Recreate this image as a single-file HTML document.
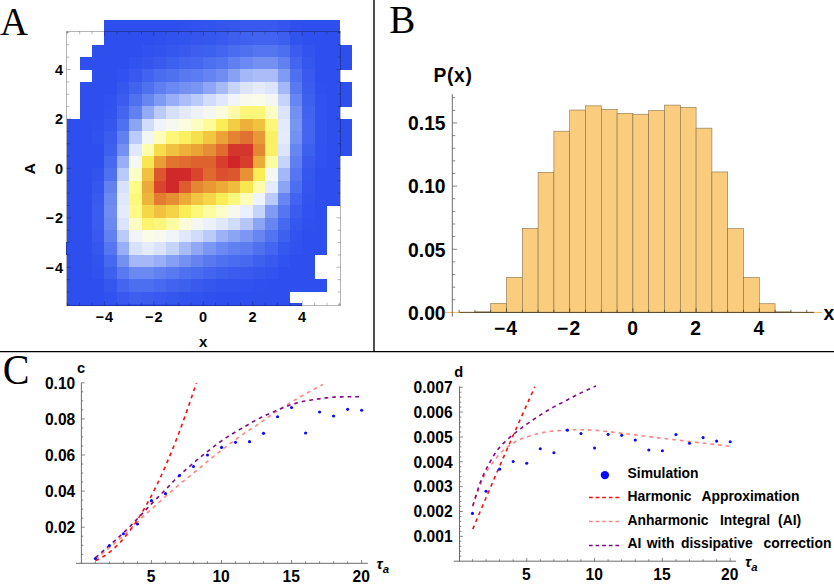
<!DOCTYPE html>
<html><head><meta charset="utf-8"><title>Figure</title>
<style>
html,body{margin:0;padding:0;background:#fff;}
svg{display:block;}
text{font-family:"Liberation Sans",sans-serif;font-weight:bold;fill:#000;}
.pl{font-family:"Liberation Serif",serif;font-weight:normal;font-size:41.2px;}
.hl{font-size:14.5px;}
.bl{font-size:19.3px;}
.cl{font-size:15.6px;}
.lg{font-size:13.9px;}
</style></head><body>
<svg width="834" height="584" viewBox="0 0 834 584">
<rect width="834" height="584" fill="#fff"/>
<g shape-rendering="crispEdges">
<rect x="104.41" y="20.10" width="74.52" height="12.64" fill="rgb(46,78,238)"/>
<rect x="178.63" y="20.10" width="12.67" height="12.64" fill="rgb(48,80,238)"/>
<rect x="191.00" y="20.10" width="12.67" height="12.64" fill="rgb(49,82,238)"/>
<rect x="203.37" y="20.10" width="12.67" height="12.64" fill="rgb(51,83,238)"/>
<rect x="215.74" y="20.10" width="12.67" height="12.64" fill="rgb(53,85,238)"/>
<rect x="228.11" y="20.10" width="12.67" height="12.64" fill="rgb(54,87,238)"/>
<rect x="240.48" y="20.10" width="37.41" height="12.64" fill="rgb(56,88,239)"/>
<rect x="277.59" y="20.10" width="12.67" height="12.64" fill="rgb(53,85,238)"/>
<rect x="289.96" y="20.10" width="12.67" height="12.64" fill="rgb(48,80,238)"/>
<rect x="302.33" y="20.10" width="37.41" height="12.64" fill="rgb(46,78,238)"/>
<rect x="104.41" y="32.44" width="49.78" height="12.64" fill="rgb(46,78,238)"/>
<rect x="153.89" y="32.44" width="12.67" height="12.64" fill="rgb(48,80,238)"/>
<rect x="166.26" y="32.44" width="12.67" height="12.64" fill="rgb(49,82,238)"/>
<rect x="178.63" y="32.44" width="12.67" height="12.64" fill="rgb(51,83,238)"/>
<rect x="191.00" y="32.44" width="12.67" height="12.64" fill="rgb(53,85,238)"/>
<rect x="203.37" y="32.44" width="12.67" height="12.64" fill="rgb(54,87,238)"/>
<rect x="215.74" y="32.44" width="12.67" height="12.64" fill="rgb(58,90,239)"/>
<rect x="228.11" y="32.44" width="12.67" height="12.64" fill="rgb(61,94,239)"/>
<rect x="240.48" y="32.44" width="12.67" height="12.64" fill="rgb(64,97,239)"/>
<rect x="252.85" y="32.44" width="25.04" height="12.64" fill="rgb(66,99,239)"/>
<rect x="277.59" y="32.44" width="12.67" height="12.64" fill="rgb(61,94,239)"/>
<rect x="289.96" y="32.44" width="12.67" height="12.64" fill="rgb(51,83,238)"/>
<rect x="302.33" y="32.44" width="12.67" height="12.64" fill="rgb(48,80,238)"/>
<rect x="314.70" y="32.44" width="25.04" height="12.64" fill="rgb(46,78,238)"/>
<rect x="92.04" y="44.78" width="49.78" height="12.64" fill="rgb(46,78,238)"/>
<rect x="141.52" y="44.78" width="12.67" height="12.64" fill="rgb(49,82,238)"/>
<rect x="153.89" y="44.78" width="12.67" height="12.64" fill="rgb(51,83,238)"/>
<rect x="166.26" y="44.78" width="12.67" height="12.64" fill="rgb(54,87,238)"/>
<rect x="178.63" y="44.78" width="12.67" height="12.64" fill="rgb(58,90,239)"/>
<rect x="191.00" y="44.78" width="12.67" height="12.64" fill="rgb(61,94,239)"/>
<rect x="203.37" y="44.78" width="12.67" height="12.64" fill="rgb(62,96,239)"/>
<rect x="215.74" y="44.78" width="12.67" height="12.64" fill="rgb(67,101,239)"/>
<rect x="228.11" y="44.78" width="12.67" height="12.64" fill="rgb(74,108,240)"/>
<rect x="240.48" y="44.78" width="12.67" height="12.64" fill="rgb(79,113,240)"/>
<rect x="252.85" y="44.78" width="25.04" height="12.64" fill="rgb(85,118,240)"/>
<rect x="277.59" y="44.78" width="12.67" height="12.64" fill="rgb(76,110,240)"/>
<rect x="289.96" y="44.78" width="12.67" height="12.64" fill="rgb(59,92,239)"/>
<rect x="302.33" y="44.78" width="12.67" height="12.64" fill="rgb(51,83,238)"/>
<rect x="314.70" y="44.78" width="37.41" height="12.64" fill="rgb(46,78,238)"/>
<rect x="79.67" y="57.12" width="49.78" height="12.64" fill="rgb(46,78,238)"/>
<rect x="129.15" y="57.12" width="12.67" height="12.64" fill="rgb(49,82,238)"/>
<rect x="141.52" y="57.12" width="12.67" height="12.64" fill="rgb(53,85,238)"/>
<rect x="153.89" y="57.12" width="12.67" height="12.64" fill="rgb(58,90,239)"/>
<rect x="166.26" y="57.12" width="12.67" height="12.64" fill="rgb(62,96,239)"/>
<rect x="178.63" y="57.12" width="12.67" height="12.64" fill="rgb(67,101,239)"/>
<rect x="191.00" y="57.12" width="12.67" height="12.64" fill="rgb(69,102,239)"/>
<rect x="203.37" y="57.12" width="12.67" height="12.64" fill="rgb(76,110,240)"/>
<rect x="215.74" y="57.12" width="12.67" height="12.64" fill="rgb(83,116,240)"/>
<rect x="228.11" y="57.12" width="12.67" height="12.64" fill="rgb(96,127,241)"/>
<rect x="240.48" y="57.12" width="12.67" height="12.64" fill="rgb(107,137,242)"/>
<rect x="252.85" y="57.12" width="25.04" height="12.64" fill="rgb(116,145,242)"/>
<rect x="277.59" y="57.12" width="12.67" height="12.64" fill="rgb(98,129,241)"/>
<rect x="289.96" y="57.12" width="12.67" height="12.64" fill="rgb(67,101,239)"/>
<rect x="302.33" y="57.12" width="12.67" height="12.64" fill="rgb(54,87,238)"/>
<rect x="314.70" y="57.12" width="37.41" height="12.64" fill="rgb(46,78,238)"/>
<rect x="92.04" y="69.46" width="25.04" height="12.64" fill="rgb(46,78,238)"/>
<rect x="116.78" y="69.46" width="12.67" height="12.64" fill="rgb(49,82,238)"/>
<rect x="129.15" y="69.46" width="12.67" height="12.64" fill="rgb(56,88,239)"/>
<rect x="141.52" y="69.46" width="12.67" height="12.64" fill="rgb(66,99,239)"/>
<rect x="153.89" y="69.46" width="12.67" height="12.64" fill="rgb(74,108,240)"/>
<rect x="166.26" y="69.46" width="12.67" height="12.64" fill="rgb(79,113,240)"/>
<rect x="178.63" y="69.46" width="12.67" height="12.64" fill="rgb(88,121,240)"/>
<rect x="191.00" y="69.46" width="12.67" height="12.64" fill="rgb(92,124,241)"/>
<rect x="203.37" y="69.46" width="12.67" height="12.64" fill="rgb(101,132,241)"/>
<rect x="215.74" y="69.46" width="12.67" height="12.64" fill="rgb(112,142,242)"/>
<rect x="228.11" y="69.46" width="12.67" height="12.64" fill="rgb(135,161,244)"/>
<rect x="240.48" y="69.46" width="12.67" height="12.64" fill="rgb(164,184,247)"/>
<rect x="252.85" y="69.46" width="25.04" height="12.64" fill="rgb(171,189,248)"/>
<rect x="277.59" y="69.46" width="12.67" height="12.64" fill="rgb(128,155,243)"/>
<rect x="289.96" y="69.46" width="12.67" height="12.64" fill="rgb(79,113,240)"/>
<rect x="302.33" y="69.46" width="12.67" height="12.64" fill="rgb(58,90,239)"/>
<rect x="314.70" y="69.46" width="25.04" height="12.64" fill="rgb(46,78,238)"/>
<rect x="79.67" y="81.80" width="37.41" height="12.64" fill="rgb(46,78,238)"/>
<rect x="116.78" y="81.80" width="12.67" height="12.64" fill="rgb(54,87,238)"/>
<rect x="129.15" y="81.80" width="12.67" height="12.64" fill="rgb(66,99,239)"/>
<rect x="141.52" y="81.80" width="12.67" height="12.64" fill="rgb(79,113,240)"/>
<rect x="153.89" y="81.80" width="12.67" height="12.64" fill="rgb(94,126,241)"/>
<rect x="166.26" y="81.80" width="12.67" height="12.64" fill="rgb(107,137,242)"/>
<rect x="178.63" y="81.80" width="12.67" height="12.64" fill="rgb(116,145,242)"/>
<rect x="191.00" y="81.80" width="12.67" height="12.64" fill="rgb(121,149,242)"/>
<rect x="203.37" y="81.80" width="12.67" height="12.64" fill="rgb(142,166,245)"/>
<rect x="215.74" y="81.80" width="12.67" height="12.64" fill="rgb(166,186,247)"/>
<rect x="228.11" y="81.80" width="12.67" height="12.64" fill="rgb(198,211,250)"/>
<rect x="240.48" y="81.80" width="12.67" height="12.64" fill="rgb(219,228,252)"/>
<rect x="252.85" y="81.80" width="12.67" height="12.64" fill="rgb(228,235,252)"/>
<rect x="265.22" y="81.80" width="12.67" height="12.64" fill="rgb(221,229,252)"/>
<rect x="277.59" y="81.80" width="12.67" height="12.64" fill="rgb(164,184,247)"/>
<rect x="289.96" y="81.80" width="12.67" height="12.64" fill="rgb(88,121,240)"/>
<rect x="302.33" y="81.80" width="12.67" height="12.64" fill="rgb(59,92,239)"/>
<rect x="314.70" y="81.80" width="12.67" height="12.64" fill="rgb(48,80,238)"/>
<rect x="327.07" y="81.80" width="25.04" height="12.64" fill="rgb(46,78,238)"/>
<rect x="79.67" y="94.14" width="25.04" height="12.64" fill="rgb(46,78,238)"/>
<rect x="104.41" y="94.14" width="12.67" height="12.64" fill="rgb(49,82,238)"/>
<rect x="116.78" y="94.14" width="12.67" height="12.64" fill="rgb(59,92,239)"/>
<rect x="129.15" y="94.14" width="12.67" height="12.64" fill="rgb(79,113,240)"/>
<rect x="141.52" y="94.14" width="12.67" height="12.64" fill="rgb(103,134,241)"/>
<rect x="153.89" y="94.14" width="12.67" height="12.64" fill="rgb(128,155,243)"/>
<rect x="166.26" y="94.14" width="12.67" height="12.64" fill="rgb(152,174,246)"/>
<rect x="178.63" y="94.14" width="12.67" height="12.64" fill="rgb(171,189,248)"/>
<rect x="191.00" y="94.14" width="12.67" height="12.64" fill="rgb(186,202,249)"/>
<rect x="203.37" y="94.14" width="12.67" height="12.64" fill="rgb(209,220,251)"/>
<rect x="215.74" y="94.14" width="12.67" height="12.64" fill="rgb(224,232,252)"/>
<rect x="228.11" y="94.14" width="12.67" height="12.64" fill="rgb(241,245,249)"/>
<rect x="240.48" y="94.14" width="12.67" height="12.64" fill="rgb(249,250,236)"/>
<rect x="252.85" y="94.14" width="12.67" height="12.64" fill="rgb(251,252,232)"/>
<rect x="265.22" y="94.14" width="12.67" height="12.64" fill="rgb(245,248,242)"/>
<rect x="277.59" y="94.14" width="12.67" height="12.64" fill="rgb(198,211,250)"/>
<rect x="289.96" y="94.14" width="12.67" height="12.64" fill="rgb(103,134,241)"/>
<rect x="302.33" y="94.14" width="12.67" height="12.64" fill="rgb(62,96,239)"/>
<rect x="314.70" y="94.14" width="12.67" height="12.64" fill="rgb(49,82,238)"/>
<rect x="327.07" y="94.14" width="25.04" height="12.64" fill="rgb(46,78,238)"/>
<rect x="79.67" y="106.48" width="25.04" height="12.64" fill="rgb(46,78,238)"/>
<rect x="104.41" y="106.48" width="12.67" height="12.64" fill="rgb(51,83,238)"/>
<rect x="116.78" y="106.48" width="12.67" height="12.64" fill="rgb(67,101,239)"/>
<rect x="129.15" y="106.48" width="12.67" height="12.64" fill="rgb(98,129,241)"/>
<rect x="141.52" y="106.48" width="12.67" height="12.64" fill="rgb(147,170,245)"/>
<rect x="153.89" y="106.48" width="12.67" height="12.64" fill="rgb(186,202,249)"/>
<rect x="166.26" y="106.48" width="12.67" height="12.64" fill="rgb(214,223,251)"/>
<rect x="178.63" y="106.48" width="12.67" height="12.64" fill="rgb(227,234,252)"/>
<rect x="191.00" y="106.48" width="12.67" height="12.64" fill="rgb(238,242,253)"/>
<rect x="203.37" y="106.48" width="12.67" height="12.64" fill="rgb(245,248,242)"/>
<rect x="215.74" y="106.48" width="12.67" height="12.64" fill="rgb(252,252,223)"/>
<rect x="228.11" y="106.48" width="12.67" height="12.64" fill="rgb(254,252,170)"/>
<rect x="240.48" y="106.48" width="25.04" height="12.64" fill="rgb(252,247,120)"/>
<rect x="265.22" y="106.48" width="12.67" height="12.64" fill="rgb(253,253,195)"/>
<rect x="277.59" y="106.48" width="12.67" height="12.64" fill="rgb(219,228,252)"/>
<rect x="289.96" y="106.48" width="12.67" height="12.64" fill="rgb(116,145,242)"/>
<rect x="302.33" y="106.48" width="12.67" height="12.64" fill="rgb(66,99,239)"/>
<rect x="314.70" y="106.48" width="12.67" height="12.64" fill="rgb(49,82,238)"/>
<rect x="327.07" y="106.48" width="12.67" height="12.64" fill="rgb(46,78,238)"/>
<rect x="66.70" y="118.82" width="25.64" height="12.64" fill="rgb(46,78,238)"/>
<rect x="92.04" y="118.82" width="12.67" height="12.64" fill="rgb(48,80,238)"/>
<rect x="104.41" y="118.82" width="12.67" height="12.64" fill="rgb(54,87,238)"/>
<rect x="116.78" y="118.82" width="12.67" height="12.64" fill="rgb(79,113,240)"/>
<rect x="129.15" y="118.82" width="12.67" height="12.64" fill="rgb(140,164,244)"/>
<rect x="141.52" y="118.82" width="12.67" height="12.64" fill="rgb(209,220,251)"/>
<rect x="153.89" y="118.82" width="12.67" height="12.64" fill="rgb(239,243,253)"/>
<rect x="166.26" y="118.82" width="12.67" height="12.64" fill="rgb(247,249,238)"/>
<rect x="178.63" y="118.82" width="12.67" height="12.64" fill="rgb(252,252,223)"/>
<rect x="191.00" y="118.82" width="12.67" height="12.64" fill="rgb(253,253,195)"/>
<rect x="203.37" y="118.82" width="12.67" height="12.64" fill="rgb(253,252,150)"/>
<rect x="215.74" y="118.82" width="12.67" height="12.64" fill="rgb(250,237,86)"/>
<rect x="228.11" y="118.82" width="12.67" height="12.64" fill="rgb(243,205,66)"/>
<rect x="240.48" y="118.82" width="12.67" height="12.64" fill="rgb(237,177,58)"/>
<rect x="252.85" y="118.82" width="12.67" height="12.64" fill="rgb(241,194,63)"/>
<rect x="265.22" y="118.82" width="12.67" height="12.64" fill="rgb(252,247,120)"/>
<rect x="277.59" y="118.82" width="12.67" height="12.64" fill="rgb(227,234,252)"/>
<rect x="289.96" y="118.82" width="12.67" height="12.64" fill="rgb(121,149,242)"/>
<rect x="302.33" y="118.82" width="12.67" height="12.64" fill="rgb(67,101,239)"/>
<rect x="314.70" y="118.82" width="12.67" height="12.64" fill="rgb(51,83,238)"/>
<rect x="327.07" y="118.82" width="25.04" height="12.64" fill="rgb(46,78,238)"/>
<rect x="66.70" y="131.16" width="25.64" height="12.64" fill="rgb(46,78,238)"/>
<rect x="92.04" y="131.16" width="12.67" height="12.64" fill="rgb(49,82,238)"/>
<rect x="104.41" y="131.16" width="12.67" height="12.64" fill="rgb(59,92,239)"/>
<rect x="116.78" y="131.16" width="12.67" height="12.64" fill="rgb(98,129,241)"/>
<rect x="129.15" y="131.16" width="12.67" height="12.64" fill="rgb(186,202,249)"/>
<rect x="141.52" y="131.16" width="12.67" height="12.64" fill="rgb(243,246,247)"/>
<rect x="153.89" y="131.16" width="12.67" height="12.64" fill="rgb(254,253,186)"/>
<rect x="166.26" y="131.16" width="12.67" height="12.64" fill="rgb(252,247,120)"/>
<rect x="178.63" y="131.16" width="12.67" height="12.64" fill="rgb(251,240,96)"/>
<rect x="191.00" y="131.16" width="12.67" height="12.64" fill="rgb(247,224,78)"/>
<rect x="203.37" y="131.16" width="12.67" height="12.64" fill="rgb(242,198,64)"/>
<rect x="215.74" y="131.16" width="12.67" height="12.64" fill="rgb(235,163,55)"/>
<rect x="228.11" y="131.16" width="12.67" height="12.64" fill="rgb(228,131,50)"/>
<rect x="240.48" y="131.16" width="12.67" height="12.64" fill="rgb(225,113,48)"/>
<rect x="252.85" y="131.16" width="12.67" height="12.64" fill="rgb(232,153,53)"/>
<rect x="265.22" y="131.16" width="12.67" height="12.64" fill="rgb(251,241,100)"/>
<rect x="277.59" y="131.16" width="12.67" height="12.64" fill="rgb(228,235,252)"/>
<rect x="289.96" y="131.16" width="12.67" height="12.64" fill="rgb(116,145,242)"/>
<rect x="302.33" y="131.16" width="12.67" height="12.64" fill="rgb(67,101,239)"/>
<rect x="314.70" y="131.16" width="12.67" height="12.64" fill="rgb(51,83,238)"/>
<rect x="327.07" y="131.16" width="25.04" height="12.64" fill="rgb(46,78,238)"/>
<rect x="66.70" y="143.50" width="38.01" height="12.64" fill="rgb(46,78,238)"/>
<rect x="104.41" y="143.50" width="12.67" height="12.64" fill="rgb(62,96,239)"/>
<rect x="116.78" y="143.50" width="12.67" height="12.64" fill="rgb(116,145,242)"/>
<rect x="129.15" y="143.50" width="12.67" height="12.64" fill="rgb(224,232,252)"/>
<rect x="141.52" y="143.50" width="12.67" height="12.64" fill="rgb(254,253,176)"/>
<rect x="153.89" y="143.50" width="12.67" height="12.64" fill="rgb(246,221,76)"/>
<rect x="166.26" y="143.50" width="12.67" height="12.64" fill="rgb(241,194,63)"/>
<rect x="178.63" y="143.50" width="12.67" height="12.64" fill="rgb(237,177,58)"/>
<rect x="191.00" y="143.50" width="12.67" height="12.64" fill="rgb(235,163,55)"/>
<rect x="203.37" y="143.50" width="12.67" height="12.64" fill="rgb(230,142,51)"/>
<rect x="215.74" y="143.50" width="12.67" height="12.64" fill="rgb(224,109,47)"/>
<rect x="228.11" y="143.50" width="25.04" height="12.64" fill="rgb(213,54,43)"/>
<rect x="252.85" y="143.50" width="12.67" height="12.64" fill="rgb(229,135,50)"/>
<rect x="265.22" y="143.50" width="12.67" height="12.64" fill="rgb(251,241,100)"/>
<rect x="277.59" y="143.50" width="12.67" height="12.64" fill="rgb(221,229,252)"/>
<rect x="289.96" y="143.50" width="12.67" height="12.64" fill="rgb(103,134,241)"/>
<rect x="302.33" y="143.50" width="12.67" height="12.64" fill="rgb(62,96,239)"/>
<rect x="314.70" y="143.50" width="12.67" height="12.64" fill="rgb(49,82,238)"/>
<rect x="327.07" y="143.50" width="25.04" height="12.64" fill="rgb(46,78,238)"/>
<rect x="66.70" y="155.84" width="38.01" height="12.64" fill="rgb(46,78,238)"/>
<rect x="104.41" y="155.84" width="12.67" height="12.64" fill="rgb(71,104,240)"/>
<rect x="116.78" y="155.84" width="12.67" height="12.64" fill="rgb(152,174,246)"/>
<rect x="129.15" y="155.84" width="12.67" height="12.64" fill="rgb(245,248,242)"/>
<rect x="141.52" y="155.84" width="12.67" height="12.64" fill="rgb(249,231,82)"/>
<rect x="153.89" y="155.84" width="12.67" height="12.64" fill="rgb(234,159,54)"/>
<rect x="166.26" y="155.84" width="12.67" height="12.64" fill="rgb(226,116,48)"/>
<rect x="178.63" y="155.84" width="12.67" height="12.64" fill="rgb(224,109,47)"/>
<rect x="191.00" y="155.84" width="25.04" height="12.64" fill="rgb(222,98,46)"/>
<rect x="215.74" y="155.84" width="12.67" height="12.64" fill="rgb(215,62,43)"/>
<rect x="228.11" y="155.84" width="12.67" height="12.64" fill="rgb(209,37,42)"/>
<rect x="240.48" y="155.84" width="12.67" height="12.64" fill="rgb(215,62,43)"/>
<rect x="252.85" y="155.84" width="12.67" height="12.64" fill="rgb(236,170,56)"/>
<rect x="265.22" y="155.84" width="12.67" height="12.64" fill="rgb(254,252,160)"/>
<rect x="277.59" y="155.84" width="12.67" height="12.64" fill="rgb(198,211,250)"/>
<rect x="289.96" y="155.84" width="12.67" height="12.64" fill="rgb(94,126,241)"/>
<rect x="302.33" y="155.84" width="12.67" height="12.64" fill="rgb(58,90,239)"/>
<rect x="314.70" y="155.84" width="12.67" height="12.64" fill="rgb(49,82,238)"/>
<rect x="327.07" y="155.84" width="12.67" height="12.64" fill="rgb(46,78,238)"/>
<rect x="66.70" y="168.18" width="25.64" height="12.64" fill="rgb(46,78,238)"/>
<rect x="92.04" y="168.18" width="12.67" height="12.64" fill="rgb(51,83,238)"/>
<rect x="104.41" y="168.18" width="12.67" height="12.64" fill="rgb(79,113,240)"/>
<rect x="116.78" y="168.18" width="12.67" height="12.64" fill="rgb(186,202,249)"/>
<rect x="129.15" y="168.18" width="12.67" height="12.64" fill="rgb(253,253,200)"/>
<rect x="141.52" y="168.18" width="12.67" height="12.64" fill="rgb(241,194,63)"/>
<rect x="153.89" y="168.18" width="12.67" height="12.64" fill="rgb(220,87,45)"/>
<rect x="166.26" y="168.18" width="25.04" height="12.64" fill="rgb(209,40,42)"/>
<rect x="191.00" y="168.18" width="12.67" height="12.64" fill="rgb(216,69,44)"/>
<rect x="203.37" y="168.18" width="12.67" height="12.64" fill="rgb(223,105,47)"/>
<rect x="215.74" y="168.18" width="12.67" height="12.64" fill="rgb(218,80,44)"/>
<rect x="228.11" y="168.18" width="12.67" height="12.64" fill="rgb(220,87,45)"/>
<rect x="240.48" y="168.18" width="12.67" height="12.64" fill="rgb(231,146,52)"/>
<rect x="252.85" y="168.18" width="12.67" height="12.64" fill="rgb(250,237,86)"/>
<rect x="265.22" y="168.18" width="12.67" height="12.64" fill="rgb(245,248,242)"/>
<rect x="277.59" y="168.18" width="12.67" height="12.64" fill="rgb(164,184,247)"/>
<rect x="289.96" y="168.18" width="12.67" height="12.64" fill="rgb(85,118,240)"/>
<rect x="302.33" y="168.18" width="12.67" height="12.64" fill="rgb(54,87,238)"/>
<rect x="314.70" y="168.18" width="25.04" height="12.64" fill="rgb(46,78,238)"/>
<rect x="66.70" y="180.52" width="25.64" height="12.64" fill="rgb(46,78,238)"/>
<rect x="92.04" y="180.52" width="12.67" height="12.64" fill="rgb(54,87,238)"/>
<rect x="104.41" y="180.52" width="12.67" height="12.64" fill="rgb(98,129,241)"/>
<rect x="116.78" y="180.52" width="12.67" height="12.64" fill="rgb(216,226,252)"/>
<rect x="129.15" y="180.52" width="12.67" height="12.64" fill="rgb(253,251,134)"/>
<rect x="141.52" y="180.52" width="12.67" height="12.64" fill="rgb(236,170,56)"/>
<rect x="153.89" y="180.52" width="12.67" height="12.64" fill="rgb(216,69,44)"/>
<rect x="166.26" y="180.52" width="12.67" height="12.64" fill="rgb(209,40,42)"/>
<rect x="178.63" y="180.52" width="12.67" height="12.64" fill="rgb(221,91,45)"/>
<rect x="191.00" y="180.52" width="12.67" height="12.64" fill="rgb(229,135,50)"/>
<rect x="203.37" y="180.52" width="12.67" height="12.64" fill="rgb(232,153,53)"/>
<rect x="215.74" y="180.52" width="12.67" height="12.64" fill="rgb(236,170,56)"/>
<rect x="228.11" y="180.52" width="12.67" height="12.64" fill="rgb(240,188,61)"/>
<rect x="240.48" y="180.52" width="12.67" height="12.64" fill="rgb(249,231,82)"/>
<rect x="252.85" y="180.52" width="12.67" height="12.64" fill="rgb(254,252,170)"/>
<rect x="265.22" y="180.52" width="12.67" height="12.64" fill="rgb(228,235,252)"/>
<rect x="277.59" y="180.52" width="12.67" height="12.64" fill="rgb(140,164,244)"/>
<rect x="289.96" y="180.52" width="12.67" height="12.64" fill="rgb(76,110,240)"/>
<rect x="302.33" y="180.52" width="12.67" height="12.64" fill="rgb(53,85,238)"/>
<rect x="314.70" y="180.52" width="25.04" height="12.64" fill="rgb(46,78,238)"/>
<rect x="66.70" y="192.86" width="25.64" height="12.64" fill="rgb(46,78,238)"/>
<rect x="92.04" y="192.86" width="12.67" height="12.64" fill="rgb(58,90,239)"/>
<rect x="104.41" y="192.86" width="12.67" height="12.64" fill="rgb(107,137,242)"/>
<rect x="116.78" y="192.86" width="12.67" height="12.64" fill="rgb(224,232,252)"/>
<rect x="129.15" y="192.86" width="12.67" height="12.64" fill="rgb(252,248,124)"/>
<rect x="141.52" y="192.86" width="12.67" height="12.64" fill="rgb(238,181,59)"/>
<rect x="153.89" y="192.86" width="12.67" height="12.64" fill="rgb(227,124,49)"/>
<rect x="166.26" y="192.86" width="12.67" height="12.64" fill="rgb(230,142,51)"/>
<rect x="178.63" y="192.86" width="12.67" height="12.64" fill="rgb(236,170,56)"/>
<rect x="191.00" y="192.86" width="12.67" height="12.64" fill="rgb(242,198,64)"/>
<rect x="203.37" y="192.86" width="12.67" height="12.64" fill="rgb(245,215,72)"/>
<rect x="215.74" y="192.86" width="12.67" height="12.64" fill="rgb(250,237,86)"/>
<rect x="228.11" y="192.86" width="12.67" height="12.64" fill="rgb(252,248,124)"/>
<rect x="240.48" y="192.86" width="12.67" height="12.64" fill="rgb(254,253,186)"/>
<rect x="252.85" y="192.86" width="12.67" height="12.64" fill="rgb(239,243,253)"/>
<rect x="265.22" y="192.86" width="12.67" height="12.64" fill="rgb(186,202,249)"/>
<rect x="277.59" y="192.86" width="12.67" height="12.64" fill="rgb(103,134,241)"/>
<rect x="289.96" y="192.86" width="12.67" height="12.64" fill="rgb(66,99,239)"/>
<rect x="302.33" y="192.86" width="12.67" height="12.64" fill="rgb(51,83,238)"/>
<rect x="314.70" y="192.86" width="25.04" height="12.64" fill="rgb(46,78,238)"/>
<rect x="66.70" y="205.20" width="25.64" height="12.64" fill="rgb(46,78,238)"/>
<rect x="92.04" y="205.20" width="12.67" height="12.64" fill="rgb(59,92,239)"/>
<rect x="104.41" y="205.20" width="12.67" height="12.64" fill="rgb(110,140,242)"/>
<rect x="116.78" y="205.20" width="12.67" height="12.64" fill="rgb(228,235,252)"/>
<rect x="129.15" y="205.20" width="12.67" height="12.64" fill="rgb(253,251,134)"/>
<rect x="141.52" y="205.20" width="12.67" height="12.64" fill="rgb(245,215,72)"/>
<rect x="153.89" y="205.20" width="12.67" height="12.64" fill="rgb(241,194,63)"/>
<rect x="166.26" y="205.20" width="12.67" height="12.64" fill="rgb(244,211,70)"/>
<rect x="178.63" y="205.20" width="12.67" height="12.64" fill="rgb(250,237,86)"/>
<rect x="191.00" y="205.20" width="12.67" height="12.64" fill="rgb(252,248,124)"/>
<rect x="203.37" y="205.20" width="12.67" height="12.64" fill="rgb(254,252,160)"/>
<rect x="215.74" y="205.20" width="12.67" height="12.64" fill="rgb(253,253,200)"/>
<rect x="228.11" y="205.20" width="12.67" height="12.64" fill="rgb(247,249,238)"/>
<rect x="240.48" y="205.20" width="12.67" height="12.64" fill="rgb(234,240,253)"/>
<rect x="252.85" y="205.20" width="12.67" height="12.64" fill="rgb(198,211,250)"/>
<rect x="265.22" y="205.20" width="12.67" height="12.64" fill="rgb(128,155,243)"/>
<rect x="277.59" y="205.20" width="12.67" height="12.64" fill="rgb(85,118,240)"/>
<rect x="289.96" y="205.20" width="12.67" height="12.64" fill="rgb(59,92,239)"/>
<rect x="302.33" y="205.20" width="12.67" height="12.64" fill="rgb(49,82,238)"/>
<rect x="314.70" y="205.20" width="12.67" height="12.64" fill="rgb(46,78,238)"/>
<rect x="66.70" y="217.54" width="25.64" height="12.64" fill="rgb(46,78,238)"/>
<rect x="92.04" y="217.54" width="12.67" height="12.64" fill="rgb(59,92,239)"/>
<rect x="104.41" y="217.54" width="12.67" height="12.64" fill="rgb(107,137,242)"/>
<rect x="116.78" y="217.54" width="12.67" height="12.64" fill="rgb(219,228,252)"/>
<rect x="129.15" y="217.54" width="12.67" height="12.64" fill="rgb(253,253,195)"/>
<rect x="141.52" y="217.54" width="12.67" height="12.64" fill="rgb(252,244,110)"/>
<rect x="153.89" y="217.54" width="12.67" height="12.64" fill="rgb(252,247,120)"/>
<rect x="166.26" y="217.54" width="12.67" height="12.64" fill="rgb(254,252,160)"/>
<rect x="178.63" y="217.54" width="12.67" height="12.64" fill="rgb(252,252,218)"/>
<rect x="191.00" y="217.54" width="12.67" height="12.64" fill="rgb(245,248,242)"/>
<rect x="203.37" y="217.54" width="12.67" height="12.64" fill="rgb(236,241,253)"/>
<rect x="215.74" y="217.54" width="12.67" height="12.64" fill="rgb(224,232,252)"/>
<rect x="228.11" y="217.54" width="12.67" height="12.64" fill="rgb(209,220,251)"/>
<rect x="240.48" y="217.54" width="12.67" height="12.64" fill="rgb(182,198,249)"/>
<rect x="252.85" y="217.54" width="12.67" height="12.64" fill="rgb(140,164,244)"/>
<rect x="265.22" y="217.54" width="12.67" height="12.64" fill="rgb(103,134,241)"/>
<rect x="277.59" y="217.54" width="12.67" height="12.64" fill="rgb(71,104,240)"/>
<rect x="289.96" y="217.54" width="12.67" height="12.64" fill="rgb(54,87,238)"/>
<rect x="302.33" y="217.54" width="12.67" height="12.64" fill="rgb(48,80,238)"/>
<rect x="314.70" y="217.54" width="12.67" height="12.64" fill="rgb(46,78,238)"/>
<rect x="66.70" y="229.88" width="25.64" height="12.64" fill="rgb(46,78,238)"/>
<rect x="92.04" y="229.88" width="12.67" height="12.64" fill="rgb(58,90,239)"/>
<rect x="104.41" y="229.88" width="12.67" height="12.64" fill="rgb(98,129,241)"/>
<rect x="116.78" y="229.88" width="12.67" height="12.64" fill="rgb(186,202,249)"/>
<rect x="129.15" y="229.88" width="12.67" height="12.64" fill="rgb(241,245,249)"/>
<rect x="141.52" y="229.88" width="12.67" height="12.64" fill="rgb(251,252,232)"/>
<rect x="153.89" y="229.88" width="12.67" height="12.64" fill="rgb(249,250,236)"/>
<rect x="166.26" y="229.88" width="12.67" height="12.64" fill="rgb(241,245,249)"/>
<rect x="178.63" y="229.88" width="12.67" height="12.64" fill="rgb(224,232,252)"/>
<rect x="191.00" y="229.88" width="12.67" height="12.64" fill="rgb(209,220,251)"/>
<rect x="203.37" y="229.88" width="12.67" height="12.64" fill="rgb(186,202,249)"/>
<rect x="215.74" y="229.88" width="12.67" height="12.64" fill="rgb(157,178,246)"/>
<rect x="228.11" y="229.88" width="12.67" height="12.64" fill="rgb(140,164,244)"/>
<rect x="240.48" y="229.88" width="12.67" height="12.64" fill="rgb(123,151,243)"/>
<rect x="252.85" y="229.88" width="12.67" height="12.64" fill="rgb(103,134,241)"/>
<rect x="265.22" y="229.88" width="12.67" height="12.64" fill="rgb(83,116,240)"/>
<rect x="277.59" y="229.88" width="12.67" height="12.64" fill="rgb(62,96,239)"/>
<rect x="289.96" y="229.88" width="12.67" height="12.64" fill="rgb(51,83,238)"/>
<rect x="302.33" y="229.88" width="25.04" height="12.64" fill="rgb(46,78,238)"/>
<rect x="66.70" y="242.22" width="25.64" height="12.64" fill="rgb(46,78,238)"/>
<rect x="92.04" y="242.22" width="12.67" height="12.64" fill="rgb(54,87,238)"/>
<rect x="104.41" y="242.22" width="12.67" height="12.64" fill="rgb(85,118,240)"/>
<rect x="116.78" y="242.22" width="12.67" height="12.64" fill="rgb(152,174,246)"/>
<rect x="129.15" y="242.22" width="12.67" height="12.64" fill="rgb(216,226,252)"/>
<rect x="141.52" y="242.22" width="12.67" height="12.64" fill="rgb(228,235,252)"/>
<rect x="153.89" y="242.22" width="12.67" height="12.64" fill="rgb(219,228,252)"/>
<rect x="166.26" y="242.22" width="12.67" height="12.64" fill="rgb(198,211,250)"/>
<rect x="178.63" y="242.22" width="12.67" height="12.64" fill="rgb(168,188,247)"/>
<rect x="191.00" y="242.22" width="12.67" height="12.64" fill="rgb(145,168,245)"/>
<rect x="203.37" y="242.22" width="12.67" height="12.64" fill="rgb(123,151,243)"/>
<rect x="215.74" y="242.22" width="12.67" height="12.64" fill="rgb(107,137,242)"/>
<rect x="228.11" y="242.22" width="12.67" height="12.64" fill="rgb(98,129,241)"/>
<rect x="240.48" y="242.22" width="12.67" height="12.64" fill="rgb(92,124,241)"/>
<rect x="252.85" y="242.22" width="12.67" height="12.64" fill="rgb(79,113,240)"/>
<rect x="265.22" y="242.22" width="12.67" height="12.64" fill="rgb(67,101,239)"/>
<rect x="277.59" y="242.22" width="12.67" height="12.64" fill="rgb(54,87,238)"/>
<rect x="289.96" y="242.22" width="12.67" height="12.64" fill="rgb(49,82,238)"/>
<rect x="302.33" y="242.22" width="25.04" height="12.64" fill="rgb(46,78,238)"/>
<rect x="66.70" y="254.56" width="25.64" height="12.64" fill="rgb(46,78,238)"/>
<rect x="92.04" y="254.56" width="12.67" height="12.64" fill="rgb(51,83,238)"/>
<rect x="104.41" y="254.56" width="12.67" height="12.64" fill="rgb(71,104,240)"/>
<rect x="116.78" y="254.56" width="12.67" height="12.64" fill="rgb(116,145,242)"/>
<rect x="129.15" y="254.56" width="25.04" height="12.64" fill="rgb(164,184,247)"/>
<rect x="153.89" y="254.56" width="12.67" height="12.64" fill="rgb(152,174,246)"/>
<rect x="166.26" y="254.56" width="12.67" height="12.64" fill="rgb(133,159,244)"/>
<rect x="178.63" y="254.56" width="12.67" height="12.64" fill="rgb(116,145,242)"/>
<rect x="191.00" y="254.56" width="12.67" height="12.64" fill="rgb(101,132,241)"/>
<rect x="203.37" y="254.56" width="12.67" height="12.64" fill="rgb(88,121,240)"/>
<rect x="215.74" y="254.56" width="12.67" height="12.64" fill="rgb(79,113,240)"/>
<rect x="228.11" y="254.56" width="12.67" height="12.64" fill="rgb(74,108,240)"/>
<rect x="240.48" y="254.56" width="12.67" height="12.64" fill="rgb(71,104,240)"/>
<rect x="252.85" y="254.56" width="12.67" height="12.64" fill="rgb(62,96,239)"/>
<rect x="265.22" y="254.56" width="12.67" height="12.64" fill="rgb(58,90,239)"/>
<rect x="277.59" y="254.56" width="12.67" height="12.64" fill="rgb(49,82,238)"/>
<rect x="289.96" y="254.56" width="25.04" height="12.64" fill="rgb(46,78,238)"/>
<rect x="66.70" y="266.90" width="25.64" height="12.64" fill="rgb(46,78,238)"/>
<rect x="92.04" y="266.90" width="12.67" height="12.64" fill="rgb(49,82,238)"/>
<rect x="104.41" y="266.90" width="12.67" height="12.64" fill="rgb(62,96,239)"/>
<rect x="116.78" y="266.90" width="12.67" height="12.64" fill="rgb(88,121,240)"/>
<rect x="129.15" y="266.90" width="25.04" height="12.64" fill="rgb(107,137,242)"/>
<rect x="153.89" y="266.90" width="12.67" height="12.64" fill="rgb(98,129,241)"/>
<rect x="166.26" y="266.90" width="12.67" height="12.64" fill="rgb(88,121,240)"/>
<rect x="178.63" y="266.90" width="12.67" height="12.64" fill="rgb(79,113,240)"/>
<rect x="191.00" y="266.90" width="12.67" height="12.64" fill="rgb(74,108,240)"/>
<rect x="203.37" y="266.90" width="12.67" height="12.64" fill="rgb(67,101,239)"/>
<rect x="215.74" y="266.90" width="12.67" height="12.64" fill="rgb(62,96,239)"/>
<rect x="228.11" y="266.90" width="12.67" height="12.64" fill="rgb(59,92,239)"/>
<rect x="240.48" y="266.90" width="12.67" height="12.64" fill="rgb(58,90,239)"/>
<rect x="252.85" y="266.90" width="12.67" height="12.64" fill="rgb(54,87,238)"/>
<rect x="265.22" y="266.90" width="12.67" height="12.64" fill="rgb(51,83,238)"/>
<rect x="277.59" y="266.90" width="37.41" height="12.64" fill="rgb(46,78,238)"/>
<rect x="66.70" y="279.24" width="38.01" height="12.64" fill="rgb(46,78,238)"/>
<rect x="104.41" y="279.24" width="12.67" height="12.64" fill="rgb(54,87,238)"/>
<rect x="116.78" y="279.24" width="12.67" height="12.64" fill="rgb(67,101,239)"/>
<rect x="129.15" y="279.24" width="25.04" height="12.64" fill="rgb(76,110,240)"/>
<rect x="153.89" y="279.24" width="12.67" height="12.64" fill="rgb(71,104,240)"/>
<rect x="166.26" y="279.24" width="12.67" height="12.64" fill="rgb(66,99,239)"/>
<rect x="178.63" y="279.24" width="12.67" height="12.64" fill="rgb(62,96,239)"/>
<rect x="191.00" y="279.24" width="12.67" height="12.64" fill="rgb(58,90,239)"/>
<rect x="203.37" y="279.24" width="12.67" height="12.64" fill="rgb(54,87,238)"/>
<rect x="215.74" y="279.24" width="25.04" height="12.64" fill="rgb(51,83,238)"/>
<rect x="240.48" y="279.24" width="12.67" height="12.64" fill="rgb(49,82,238)"/>
<rect x="252.85" y="279.24" width="12.67" height="12.64" fill="rgb(48,80,238)"/>
<rect x="265.22" y="279.24" width="62.15" height="12.64" fill="rgb(46,78,238)"/>
<rect x="66.70" y="291.58" width="38.01" height="12.64" fill="rgb(46,78,238)"/>
<rect x="104.41" y="291.58" width="12.67" height="12.64" fill="rgb(49,82,238)"/>
<rect x="116.78" y="291.58" width="12.67" height="12.64" fill="rgb(56,88,239)"/>
<rect x="129.15" y="291.58" width="12.67" height="12.64" fill="rgb(61,94,239)"/>
<rect x="141.52" y="291.58" width="12.67" height="12.64" fill="rgb(59,92,239)"/>
<rect x="153.89" y="291.58" width="12.67" height="12.64" fill="rgb(56,88,239)"/>
<rect x="166.26" y="291.58" width="12.67" height="12.64" fill="rgb(54,87,238)"/>
<rect x="178.63" y="291.58" width="12.67" height="12.64" fill="rgb(51,83,238)"/>
<rect x="191.00" y="291.58" width="12.67" height="12.64" fill="rgb(49,82,238)"/>
<rect x="203.37" y="291.58" width="12.67" height="12.64" fill="rgb(48,80,238)"/>
<rect x="215.74" y="291.58" width="74.52" height="12.64" fill="rgb(46,78,238)"/>
<rect x="65.8" y="242.22" width="1.2" height="12.34" fill="rgb(46,78,238)"/>
<rect x="66.7" y="303.92" width="235.63" height="1.88" fill="rgb(46,78,238)"/>
<rect x="289.96" y="303.0" width="12.37" height="2.8" fill="rgb(46,78,238)"/>
</g>
<rect x="66.60" y="31.50" width="274.00" height="273.90" fill="none" stroke="#000" stroke-opacity="0.36" stroke-width="0.8"/>
<path d="M67.34 305.40v-2.80M67.34 31.50v2.80M66.60 304.36h2.80M340.60 304.36h-2.80M79.70 305.40v-2.80M79.70 31.50v2.80M66.60 292.00h2.80M340.60 292.00h-2.80M92.06 305.40v-2.80M92.06 31.50v2.80M66.60 279.64h2.80M340.60 279.64h-2.80M104.42 305.40v-4.30M104.42 31.50v4.30M66.60 267.28h4.30M340.60 267.28h-4.30M116.78 305.40v-2.80M116.78 31.50v2.80M66.60 254.92h2.80M340.60 254.92h-2.80M129.14 305.40v-2.80M129.14 31.50v2.80M66.60 242.56h2.80M340.60 242.56h-2.80M141.50 305.40v-2.80M141.50 31.50v2.80M66.60 230.20h2.80M340.60 230.20h-2.80M153.86 305.40v-4.30M153.86 31.50v4.30M66.60 217.84h4.30M340.60 217.84h-4.30M166.22 305.40v-2.80M166.22 31.50v2.80M66.60 205.48h2.80M340.60 205.48h-2.80M178.58 305.40v-2.80M178.58 31.50v2.80M66.60 193.12h2.80M340.60 193.12h-2.80M190.94 305.40v-2.80M190.94 31.50v2.80M66.60 180.76h2.80M340.60 180.76h-2.80M203.30 305.40v-4.30M203.30 31.50v4.30M66.60 168.40h4.30M340.60 168.40h-4.30M215.66 305.40v-2.80M215.66 31.50v2.80M66.60 156.04h2.80M340.60 156.04h-2.80M228.02 305.40v-2.80M228.02 31.50v2.80M66.60 143.68h2.80M340.60 143.68h-2.80M240.38 305.40v-2.80M240.38 31.50v2.80M66.60 131.32h2.80M340.60 131.32h-2.80M252.74 305.40v-4.30M252.74 31.50v4.30M66.60 118.96h4.30M340.60 118.96h-4.30M265.10 305.40v-2.80M265.10 31.50v2.80M66.60 106.60h2.80M340.60 106.60h-2.80M277.46 305.40v-2.80M277.46 31.50v2.80M66.60 94.24h2.80M340.60 94.24h-2.80M289.82 305.40v-2.80M289.82 31.50v2.80M66.60 81.88h2.80M340.60 81.88h-2.80M302.18 305.40v-4.30M302.18 31.50v4.30M66.60 69.52h4.30M340.60 69.52h-4.30M314.54 305.40v-2.80M314.54 31.50v2.80M66.60 57.16h2.80M340.60 57.16h-2.80M326.90 305.40v-2.80M326.90 31.50v2.80M66.60 44.80h2.80M340.60 44.80h-2.80M339.26 305.40v-2.80M339.26 31.50v2.80M66.60 32.44h2.80M340.60 32.44h-2.80" stroke="#000" stroke-opacity="0.42" stroke-width="0.65" fill="none"/>
<text x="104.32" y="322.3" class="hl" text-anchor="middle"><tspan style="letter-spacing:0.9px">−</tspan>4</text>
<text x="63.0" y="272.58" class="hl" text-anchor="end"><tspan style="letter-spacing:0.9px">−</tspan>4</text>
<text x="153.76" y="322.3" class="hl" text-anchor="middle"><tspan style="letter-spacing:0.9px">−</tspan>2</text>
<text x="63.0" y="223.14" class="hl" text-anchor="end"><tspan style="letter-spacing:0.9px">−</tspan>2</text>
<text x="203.10" y="322.3" class="hl" text-anchor="middle">0</text>
<text x="63.0" y="173.70" class="hl" text-anchor="end">0</text>
<text x="252.54" y="322.3" class="hl" text-anchor="middle">2</text>
<text x="63.0" y="124.26" class="hl" text-anchor="end">2</text>
<text x="301.98" y="322.3" class="hl" text-anchor="middle">4</text>
<text x="63.0" y="74.82" class="hl" text-anchor="end">4</text>
<text x="203.2" y="346.8" class="hl" style="font-size:15px" text-anchor="middle">x</text>
<text transform="translate(35.3,168.7) rotate(-90)" class="hl" style="font-size:15.3px" text-anchor="middle">A</text>
<path d="M445 312.40H822" stroke="#e9b55e" stroke-width="1"/>
<rect x="474.90" y="311.84" width="15.80" height="0.56" fill="#facd7e" stroke="#86704a" stroke-width="0.6"/>
<rect x="490.70" y="303.48" width="15.80" height="8.92" fill="#facd7e" stroke="#86704a" stroke-width="0.6"/>
<rect x="506.50" y="277.28" width="15.80" height="35.12" fill="#facd7e" stroke="#86704a" stroke-width="0.6"/>
<rect x="522.30" y="228.41" width="15.80" height="83.99" fill="#facd7e" stroke="#86704a" stroke-width="0.6"/>
<rect x="538.10" y="172.33" width="15.80" height="140.07" fill="#facd7e" stroke="#86704a" stroke-width="0.6"/>
<rect x="553.90" y="131.18" width="15.80" height="181.22" fill="#facd7e" stroke="#86704a" stroke-width="0.6"/>
<rect x="569.70" y="110.04" width="15.80" height="202.36" fill="#facd7e" stroke="#86704a" stroke-width="0.6"/>
<rect x="585.50" y="105.86" width="15.80" height="206.54" fill="#facd7e" stroke="#86704a" stroke-width="0.6"/>
<rect x="601.30" y="109.41" width="15.80" height="202.99" fill="#facd7e" stroke="#86704a" stroke-width="0.6"/>
<rect x="617.10" y="113.33" width="15.80" height="199.07" fill="#facd7e" stroke="#86704a" stroke-width="0.6"/>
<rect x="632.90" y="114.22" width="15.80" height="198.18" fill="#facd7e" stroke="#86704a" stroke-width="0.6"/>
<rect x="648.70" y="110.55" width="15.80" height="201.85" fill="#facd7e" stroke="#86704a" stroke-width="0.6"/>
<rect x="664.50" y="105.10" width="15.80" height="207.30" fill="#facd7e" stroke="#86704a" stroke-width="0.6"/>
<rect x="680.30" y="107.25" width="15.80" height="205.15" fill="#facd7e" stroke="#86704a" stroke-width="0.6"/>
<rect x="696.10" y="128.14" width="15.80" height="184.26" fill="#facd7e" stroke="#86704a" stroke-width="0.6"/>
<rect x="711.90" y="171.95" width="15.80" height="140.45" fill="#facd7e" stroke="#86704a" stroke-width="0.6"/>
<rect x="727.70" y="228.66" width="15.80" height="83.74" fill="#facd7e" stroke="#86704a" stroke-width="0.6"/>
<rect x="743.50" y="277.53" width="15.80" height="34.87" fill="#facd7e" stroke="#86704a" stroke-width="0.6"/>
<rect x="759.30" y="303.74" width="15.80" height="8.66" fill="#facd7e" stroke="#86704a" stroke-width="0.6"/>
<rect x="775.10" y="311.84" width="15.80" height="0.56" fill="#facd7e" stroke="#86704a" stroke-width="0.6"/>
<path d="M459.5 312.40H814" stroke="#3a3326" stroke-width="0.8"/>
<path d="M459.10 312.40v-2.60M474.90 312.40v-2.60M490.70 312.40v-2.60M506.50 312.40v-4.20M522.30 312.40v-2.60M538.10 312.40v-2.60M553.90 312.40v-2.60M569.70 312.40v-4.20M585.50 312.40v-2.60M601.30 312.40v-2.60M617.10 312.40v-2.60M632.90 312.40v-4.20M648.70 312.40v-2.60M664.50 312.40v-2.60M680.30 312.40v-2.60M696.10 312.40v-4.20M711.90 312.40v-2.60M727.70 312.40v-2.60M743.50 312.40v-2.60M759.30 312.40v-4.20M775.10 312.40v-2.60M790.90 312.40v-2.60M806.70 312.40v-2.60" stroke="#3a3326" stroke-width="0.7" fill="none"/>
<path d="M452.30 94.2V316.6" stroke="#484848" stroke-width="0.8"/>
<path d="M452.30 299.77h3.00M452.30 287.14h3.00M452.30 274.51h3.00M452.30 261.88h3.00M452.30 249.25h4.80M452.30 236.62h3.00M452.30 223.99h3.00M452.30 211.36h3.00M452.30 198.73h3.00M452.30 186.10h4.80M452.30 173.47h3.00M452.30 160.84h3.00M452.30 148.21h3.00M452.30 135.58h3.00M452.30 122.95h4.80M452.30 110.32h3.00M452.30 97.69h3.00" stroke="#585858" stroke-width="0.7" fill="none"/>
<text x="445.6" y="319.70" class="bl" text-anchor="end">0.00</text>
<text x="445.6" y="256.55" class="bl" text-anchor="end">0.05</text>
<text x="445.6" y="193.40" class="bl" text-anchor="end">0.10</text>
<text x="445.6" y="130.25" class="bl" text-anchor="end">0.15</text>
<text x="505.50" y="335.4" class="bl" text-anchor="middle"><tspan style="letter-spacing:1.2px">−</tspan>4</text>
<text x="568.70" y="335.4" class="bl" text-anchor="middle"><tspan style="letter-spacing:1.2px">−</tspan>2</text>
<text x="632.50" y="335.4" class="bl" text-anchor="middle">0</text>
<text x="695.70" y="335.4" class="bl" text-anchor="middle">2</text>
<text x="758.90" y="335.4" class="bl" text-anchor="middle">4</text>
<text x="433.6" y="82" class="bl" style="letter-spacing:0.6px">P(x)</text>
<text x="823.6" y="319.6" class="bl">x</text>
<path d="M81.40 382.6V563.30" stroke="#484848" stroke-width="0.8"/>
<path d="M76 563.30H367.8" stroke="#484848" stroke-width="0.8"/>
<path d="M81.40 554.27h1.90M81.40 545.25h1.90M81.40 536.22h1.90M81.40 527.20h3.40M81.40 518.17h1.90M81.40 509.15h1.90M81.40 500.12h1.90M81.40 491.10h3.40M81.40 482.07h1.90M81.40 473.05h1.90M81.40 464.02h1.90M81.40 455.00h3.40M81.40 445.97h1.90M81.40 436.95h1.90M81.40 427.92h1.90M81.40 418.90h3.40M81.40 409.87h1.90M81.40 400.85h1.90M81.40 391.82h1.90M81.40 382.80h3.40M95.41 563.30v-2.00M109.42 563.30v-2.00M123.43 563.30v-2.00M137.44 563.30v-2.00M151.45 563.30v-3.30M165.46 563.30v-2.00M179.47 563.30v-2.00M193.48 563.30v-2.00M207.49 563.30v-2.00M221.50 563.30v-3.30M235.51 563.30v-2.00M249.52 563.30v-2.00M263.53 563.30v-2.00M277.54 563.30v-2.00M291.55 563.30v-3.30M305.56 563.30v-2.00M319.57 563.30v-2.00M333.58 563.30v-2.00M347.59 563.30v-2.00M361.60 563.30v-3.30" stroke="#585858" stroke-width="0.7" fill="none"/>
<text x="75.3" y="533.20" class="cl" text-anchor="end">0.02</text>
<text x="75.3" y="497.10" class="cl" text-anchor="end">0.04</text>
<text x="75.3" y="461.00" class="cl" text-anchor="end">0.06</text>
<text x="75.3" y="424.90" class="cl" text-anchor="end">0.08</text>
<text x="75.3" y="388.80" class="cl" text-anchor="end">0.10</text>
<text x="151.05" y="582" class="cl" text-anchor="middle">5</text>
<text x="221.10" y="582" class="cl" text-anchor="middle">10</text>
<text x="291.15" y="582" class="cl" text-anchor="middle">15</text>
<text x="361.20" y="582" class="cl" text-anchor="middle">20</text>
<text x="81.1" y="373.1" class="cl" style="font-size:14.6px" text-anchor="middle">c</text>
<text x="376.6" y="569" class="cl" style="font-style:italic;font-size:15px">τ<tspan dy="4.0" style="font-size:11.3px">a</tspan></text>
<path d="M95.41 559.15 L96.81 558.00 L98.21 556.85 L99.60 555.71 L100.99 554.56 L102.39 553.42 L103.79 552.27 L105.19 551.12 L106.59 549.95 L108.00 548.78 L109.42 547.60 L110.85 546.40 L112.29 545.21 L113.74 544.01 L115.20 542.80 L116.66 541.58 L118.12 540.36 L119.57 539.12 L121.01 537.87 L122.44 536.60 L123.85 535.32 L125.24 534.02 L126.62 532.68 L127.98 531.33 L129.33 529.96 L130.67 528.58 L132.01 527.20 L133.36 525.82 L134.71 524.45 L136.07 523.11 L137.44 521.78 L138.82 520.48 L140.22 519.20 L141.61 517.93 L143.01 516.67 L144.42 515.41 L145.83 514.16 L147.23 512.91 L148.64 511.66 L150.05 510.41 L151.45 509.15 L152.85 507.88 L154.25 506.62 L155.65 505.35 L157.05 504.08 L158.45 502.81 L159.86 501.54 L161.26 500.28 L162.66 499.02 L164.06 497.76 L165.46 496.51 L166.90 495.24 L168.40 493.91 L169.93 492.56 L171.47 491.20 L173.00 489.86 L174.48 488.56 L175.90 487.33 L177.21 486.18 L178.42 485.15 L179.47 484.24 L180.33 483.51 L181.00 482.96 L181.51 482.54 L181.93 482.21 L182.29 481.94 L182.64 481.68 L183.04 481.38 L183.52 481.02 L184.14 480.54 L184.93 479.91 L185.91 479.13 L187.00 478.26 L188.20 477.31 L189.47 476.30 L190.80 475.24 L192.17 474.15 L193.55 473.04 L194.92 471.94 L196.26 470.85 L197.54 469.80 L198.80 468.77 L200.05 467.72 L201.29 466.67 L202.54 465.61 L203.79 464.56 L205.03 463.50 L206.28 462.44 L207.52 461.40 L208.77 460.36 L210.01 459.33 L211.26 458.31 L212.51 457.30 L213.75 456.30 L215.00 455.30 L216.25 454.30 L217.49 453.31 L218.74 452.33 L219.99 451.35 L221.23 450.37 L222.48 449.40 L223.73 448.44 L224.97 447.48 L226.22 446.53 L227.46 445.59 L228.71 444.64 L229.95 443.71 L231.20 442.78 L232.45 441.85 L233.70 440.93 L234.95 440.02 L236.22 439.10 L237.53 438.16 L238.85 437.22 L240.17 436.29 L241.49 435.36 L242.79 434.45 L244.06 433.57 L245.29 432.73 L246.46 431.92 L247.56 431.17 L248.59 430.49 L249.55 429.86 L250.45 429.27 L251.32 428.73 L252.15 428.21 L252.96 427.70 L253.76 427.19 L254.57 426.68 L255.39 426.15 L256.24 425.58 L257.10 425.00 L257.92 424.43 L258.73 423.86 L259.53 423.28 L260.34 422.70 L261.17 422.10 L262.04 421.49 L262.94 420.84 L263.90 420.16 L264.93 419.44 L266.03 418.67 L267.20 417.86 L268.43 417.01 L269.70 416.12 L271.00 415.22 L272.32 414.31 L273.64 413.40 L274.96 412.50 L276.27 411.63 L277.54 410.78 L278.79 409.95 L280.04 409.13 L281.29 408.32 L282.54 407.51 L283.78 406.72 L285.03 405.93 L286.27 405.14 L287.52 404.37 L288.76 403.60 L290.01 402.84 L291.26 402.08 L292.50 401.34 L293.75 400.61 L295.00 399.88 L296.24 399.16 L297.49 398.44 L298.74 397.73 L299.98 397.02 L301.23 396.32 L302.48 395.62 L303.74 394.90 L305.04 394.18 L306.36 393.45 L307.67 392.72 L308.98 392.01 L310.27 391.30 L311.53 390.62 L312.73 389.96 L313.88 389.34 L314.95 388.76 L315.94 388.22 L316.85 387.73 L317.70 387.27 L318.51 386.84 L319.28 386.43 L320.03 386.04 L320.77 385.64 L321.52 385.25 L322.28 384.85 L323.07 384.42" fill="none" stroke="#ff8484" stroke-width="1.60" stroke-dasharray="3.8 3.9"/>
<path d="M95.41 557.70 L96.81 556.48 L98.21 555.26 L99.60 554.05 L100.99 552.83 L102.39 551.61 L103.79 550.39 L105.19 549.17 L106.59 547.93 L108.00 546.69 L109.42 545.43 L110.85 544.16 L112.29 542.89 L113.74 541.61 L115.20 540.32 L116.66 539.02 L118.12 537.72 L119.57 536.41 L121.01 535.09 L122.44 533.77 L123.85 532.43 L125.24 531.10 L126.62 529.75 L127.98 528.41 L129.33 527.05 L130.67 525.69 L132.01 524.32 L133.36 522.93 L134.71 521.54 L136.07 520.14 L137.44 518.72 L138.82 517.28 L140.22 515.82 L141.61 514.34 L143.01 512.85 L144.42 511.35 L145.83 509.85 L147.23 508.35 L148.64 506.86 L150.05 505.38 L151.45 503.92 L152.85 502.47 L154.25 501.03 L155.65 499.60 L157.05 498.17 L158.45 496.75 L159.86 495.33 L161.26 493.92 L162.66 492.50 L164.06 491.08 L165.46 489.66 L166.84 488.24 L168.20 486.83 L169.54 485.43 L170.87 484.03 L172.21 482.63 L173.57 481.22 L174.97 479.79 L176.41 478.35 L177.90 476.89 L179.47 475.40 L181.14 473.85 L182.91 472.23 L184.77 470.56 L186.68 468.87 L188.60 467.18 L190.52 465.52 L192.40 463.89 L194.22 462.33 L195.94 460.87 L197.54 459.51 L199.02 458.28 L200.40 457.14 L201.70 456.08 L202.93 455.09 L204.13 454.14 L205.29 453.23 L206.45 452.34 L207.61 451.44 L208.79 450.53 L210.01 449.58 L211.26 448.62 L212.51 447.65 L213.75 446.68 L215.00 445.72 L216.25 444.77 L217.49 443.82 L218.74 442.89 L219.99 441.98 L221.23 441.08 L222.48 440.20 L223.73 439.34 L224.99 438.50 L226.26 437.66 L227.52 436.85 L228.79 436.05 L230.04 435.26 L231.29 434.49 L232.53 433.73 L233.75 432.99 L234.95 432.26 L236.15 431.54 L237.37 430.82 L238.60 430.12 L239.82 429.42 L241.02 428.75 L242.19 428.09 L243.31 427.46 L244.38 426.86 L245.38 426.29 L246.30 425.76 L247.10 425.28 L247.76 424.87 L248.33 424.50 L248.83 424.17 L249.31 423.85 L249.79 423.54 L250.31 423.21 L250.91 422.85 L251.61 422.44 L252.46 421.97 L253.45 421.44 L254.55 420.86 L255.73 420.24 L256.99 419.59 L258.29 418.92 L259.63 418.25 L260.98 417.57 L262.33 416.91 L263.65 416.26 L264.93 415.65 L266.19 415.06 L267.45 414.48 L268.71 413.90 L269.97 413.33 L271.24 412.77 L272.50 412.22 L273.76 411.67 L275.02 411.13 L276.28 410.59 L277.54 410.06 L278.79 409.52 L280.04 408.98 L281.29 408.45 L282.54 407.92 L283.78 407.39 L285.03 406.88 L286.27 406.38 L287.52 405.90 L288.76 405.44 L290.01 405.00 L291.26 404.59 L292.50 404.19 L293.75 403.81 L295.00 403.45 L296.24 403.11 L297.49 402.77 L298.74 402.46 L299.98 402.15 L301.23 401.86 L302.48 401.57 L303.72 401.30 L304.97 401.05 L306.21 400.81 L307.46 400.59 L308.70 400.38 L309.95 400.17 L311.20 399.98 L312.44 399.78 L313.69 399.59 L314.95 399.41 L316.20 399.22 L317.46 399.03 L318.72 398.86 L319.99 398.68 L321.25 398.51 L322.52 398.35 L323.78 398.20 L325.04 398.05 L326.30 397.91 L327.56 397.78 L328.77 397.66 L329.91 397.54 L331.02 397.43 L332.12 397.33 L333.23 397.24 L334.39 397.15 L335.62 397.07 L336.95 397.00 L338.41 396.94 L340.02 396.88 L341.81 396.83 L343.76 396.80 L345.83 396.77 L348.00 396.75 L350.24 396.74 L352.53 396.74 L354.84 396.73 L357.14 396.72 L359.40 396.71 L361.60 396.70" fill="none" stroke="#800a86" stroke-width="1.60" stroke-dasharray="3.8 3.9"/>
<path d="M95.41 560.50 L96.81 559.92 L98.21 559.29 L99.61 558.60 L101.01 557.85 L102.42 557.06 L103.82 556.20 L105.22 555.30 L106.62 554.34 L108.02 553.33 L109.42 552.26 L110.82 551.14 L112.22 549.97 L113.62 548.74 L115.02 547.46 L116.43 546.13 L117.83 544.75 L119.23 543.31 L120.63 541.81 L122.03 540.27 L123.43 538.67 L124.83 537.02 L126.23 535.31 L127.63 533.55 L129.03 531.74 L130.44 529.88 L131.84 527.96 L133.24 525.99 L134.64 523.96 L136.04 521.89 L137.44 519.76 L138.84 517.58 L140.24 515.34 L141.64 513.06 L143.04 510.72 L144.44 508.32 L145.85 505.88 L147.25 503.38 L148.65 500.83 L150.05 498.23 L151.45 495.57 L152.85 492.86 L154.25 490.10 L155.65 487.29 L157.05 484.42 L158.45 481.50 L159.86 478.53 L161.26 475.51 L162.66 472.44 L164.06 469.31 L165.46 466.13 L166.86 462.89 L168.26 459.61 L169.66 456.27 L171.06 452.88 L172.47 449.44 L173.87 445.94 L175.27 442.40 L176.67 438.80 L178.07 435.15 L179.47 431.44 L180.87 427.69 L182.27 423.88 L183.67 420.02 L185.07 416.11 L186.48 412.14 L187.88 408.13 L189.28 404.06 L190.68 399.94 L192.08 395.76 L193.48 391.54 L194.88 387.26 L196.28 382.93" fill="none" stroke="#fa0c0c" stroke-width="1.60" stroke-dasharray="3.8 3.9"/>
<circle cx="95.41" cy="558.61" r="1.55" fill="#0a0aff"/>
<circle cx="109.42" cy="545.61" r="1.55" fill="#0a0aff"/>
<circle cx="123.43" cy="533.70" r="1.55" fill="#0a0aff"/>
<circle cx="137.44" cy="523.95" r="1.55" fill="#0a0aff"/>
<circle cx="151.45" cy="500.67" r="1.55" fill="#0a0aff"/>
<circle cx="165.46" cy="493.63" r="1.55" fill="#0a0aff"/>
<circle cx="179.47" cy="475.58" r="1.55" fill="#0a0aff"/>
<circle cx="193.48" cy="466.55" r="1.55" fill="#0a0aff"/>
<circle cx="207.49" cy="455.00" r="1.55" fill="#0a0aff"/>
<circle cx="221.50" cy="447.42" r="1.55" fill="#0a0aff"/>
<circle cx="235.51" cy="442.36" r="1.55" fill="#0a0aff"/>
<circle cx="249.52" cy="441.64" r="1.55" fill="#0a0aff"/>
<circle cx="263.53" cy="433.34" r="1.55" fill="#0a0aff"/>
<circle cx="277.54" cy="416.73" r="1.55" fill="#0a0aff"/>
<circle cx="291.55" cy="407.53" r="1.55" fill="#0a0aff"/>
<circle cx="305.56" cy="432.98" r="1.55" fill="#0a0aff"/>
<circle cx="319.57" cy="412.04" r="1.55" fill="#0a0aff"/>
<circle cx="333.58" cy="416.01" r="1.55" fill="#0a0aff"/>
<circle cx="347.59" cy="409.33" r="1.55" fill="#0a0aff"/>
<circle cx="361.60" cy="410.24" r="1.55" fill="#0a0aff"/>
<path d="M459.50 386.4V561.20" stroke="#484848" stroke-width="0.8"/>
<path d="M453.8 561.20H736" stroke="#484848" stroke-width="0.8"/>
<path d="M459.50 556.23h1.90M459.50 551.26h1.90M459.50 546.29h1.90M459.50 541.32h1.90M459.50 536.35h3.40M459.50 531.38h1.90M459.50 526.41h1.90M459.50 521.44h1.90M459.50 516.47h1.90M459.50 511.50h3.40M459.50 506.53h1.90M459.50 501.56h1.90M459.50 496.59h1.90M459.50 491.62h1.90M459.50 486.65h3.40M459.50 481.68h1.90M459.50 476.71h1.90M459.50 471.74h1.90M459.50 466.77h1.90M459.50 461.80h3.40M459.50 456.83h1.90M459.50 451.86h1.90M459.50 446.89h1.90M459.50 441.92h1.90M459.50 436.95h3.40M459.50 431.98h1.90M459.50 427.01h1.90M459.50 422.04h1.90M459.50 417.07h1.90M459.50 412.10h3.40M459.50 407.13h1.90M459.50 402.16h1.90M459.50 397.19h1.90M459.50 392.22h1.90M459.50 387.25h3.40M472.46 561.20v-2.00M486.03 561.20v-2.00M499.59 561.20v-2.00M513.16 561.20v-2.00M526.73 561.20v-3.30M540.29 561.20v-2.00M553.86 561.20v-2.00M567.42 561.20v-2.00M580.99 561.20v-2.00M594.55 561.20v-3.30M608.12 561.20v-2.00M621.68 561.20v-2.00M635.25 561.20v-2.00M648.81 561.20v-2.00M662.38 561.20v-3.30M675.94 561.20v-2.00M689.50 561.20v-2.00M703.07 561.20v-2.00M716.63 561.20v-2.00M730.20 561.20v-3.30" stroke="#585858" stroke-width="0.7" fill="none"/>
<text x="452.6" y="542.15" class="cl" text-anchor="end">0.001</text>
<text x="452.6" y="517.30" class="cl" text-anchor="end">0.002</text>
<text x="452.6" y="492.45" class="cl" text-anchor="end">0.003</text>
<text x="452.6" y="467.60" class="cl" text-anchor="end">0.004</text>
<text x="452.6" y="442.75" class="cl" text-anchor="end">0.005</text>
<text x="452.6" y="417.90" class="cl" text-anchor="end">0.006</text>
<text x="452.6" y="393.05" class="cl" text-anchor="end">0.007</text>
<text x="526.33" y="580" class="cl" text-anchor="middle">5</text>
<text x="594.15" y="580" class="cl" text-anchor="middle">10</text>
<text x="661.98" y="580" class="cl" text-anchor="middle">15</text>
<text x="729.80" y="580" class="cl" text-anchor="middle">20</text>
<text x="458.8" y="377.3" class="cl" style="font-size:14.6px" text-anchor="middle">d</text>
<text x="745" y="567" class="cl" style="font-style:italic;font-size:15px">τ<tspan dy="4.0" style="font-size:11.3px">a</tspan></text>
<path d="M472.74 506.53 L473.38 504.63 L474.03 502.71 L474.67 500.77 L475.31 498.83 L475.95 496.90 L476.59 494.98 L477.24 493.09 L477.90 491.23 L478.57 489.41 L479.25 487.64 L479.93 485.92 L480.60 484.23 L481.28 482.58 L481.96 480.95 L482.65 479.35 L483.35 477.78 L484.08 476.23 L484.83 474.71 L485.62 473.22 L486.44 471.74 L487.31 470.28 L488.23 468.83 L489.19 467.39 L490.18 465.98 L491.18 464.60 L492.20 463.25 L493.20 461.94 L494.19 460.68 L495.15 459.47 L496.07 458.32 L496.95 457.24 L497.79 456.21 L498.61 455.24 L499.42 454.31 L500.21 453.43 L501.01 452.58 L501.81 451.75 L502.63 450.95 L503.47 450.16 L504.34 449.38 L505.27 448.60 L506.25 447.83 L507.26 447.07 L508.30 446.34 L509.33 445.63 L510.35 444.95 L511.33 444.31 L512.25 443.71 L513.09 443.16 L513.84 442.67 L514.48 442.23 L515.02 441.87 L515.48 441.56 L515.88 441.29 L516.25 441.06 L516.59 440.85 L516.95 440.65 L517.33 440.45 L517.75 440.24 L518.25 440.01 L518.80 439.76 L519.38 439.53 L519.99 439.30 L520.62 439.07 L521.26 438.84 L521.91 438.62 L522.57 438.40 L523.22 438.18 L523.87 437.96 L524.50 437.75 L525.13 437.52 L525.75 437.30 L526.38 437.08 L527.00 436.86 L527.63 436.64 L528.25 436.42 L528.88 436.21 L529.50 436.00 L530.13 435.80 L530.75 435.61 L531.38 435.42 L532.00 435.25 L532.63 435.07 L533.25 434.91 L533.87 434.75 L534.50 434.59 L535.12 434.43 L535.75 434.28 L536.37 434.12 L536.99 433.97 L537.62 433.81 L538.24 433.65 L538.87 433.49 L539.49 433.34 L540.12 433.18 L540.75 433.03 L541.37 432.88 L542.00 432.74 L542.62 432.61 L543.25 432.48 L543.87 432.36 L544.50 432.24 L545.12 432.13 L545.75 432.03 L546.37 431.93 L547.00 431.83 L547.62 431.74 L548.25 431.65 L548.88 431.57 L549.50 431.48 L550.13 431.41 L550.75 431.33 L551.38 431.27 L552.00 431.20 L552.63 431.14 L553.25 431.08 L553.88 431.03 L554.50 430.97 L555.13 430.92 L555.75 430.86 L556.38 430.81 L557.02 430.75 L557.66 430.70 L558.30 430.65 L558.94 430.60 L559.58 430.55 L560.20 430.50 L560.82 430.45 L561.41 430.41 L561.99 430.36 L562.50 430.32 L562.91 430.28 L563.26 430.24 L563.59 430.20 L563.93 430.16 L564.32 430.13 L564.80 430.09 L565.41 430.06 L566.18 430.02 L567.15 429.99 L568.32 429.95 L569.65 429.91 L571.13 429.85 L572.72 429.80 L574.41 429.75 L576.19 429.71 L578.03 429.69 L579.90 429.68 L581.80 429.70 L583.70 429.74 L585.49 429.80 L587.12 429.85 L588.69 429.90 L590.27 429.96 L591.96 430.05 L593.85 430.18 L596.00 430.35 L598.52 430.57 L601.49 430.87 L605.00 431.23 L609.04 431.69 L613.56 432.22 L618.49 432.82 L623.76 433.47 L629.34 434.17 L635.15 434.90 L641.14 435.66 L647.27 436.42 L653.46 437.19 L659.66 437.94 L665.99 438.70 L672.57 439.49 L679.35 440.29 L686.29 441.12 L693.35 441.95 L700.47 442.79 L707.63 443.64 L714.77 444.48 L721.86 445.32 L728.84 446.14" fill="none" stroke="#ff8484" stroke-width="1.60" stroke-dasharray="3.8 3.9"/>
<path d="M472.74 505.78 L473.18 504.37 L473.62 502.96 L474.06 501.54 L474.49 500.13 L474.93 498.72 L475.37 497.30 L475.82 495.89 L476.27 494.47 L476.74 493.05 L477.21 491.62 L477.69 490.20 L478.15 488.79 L478.61 487.38 L479.08 485.97 L479.55 484.55 L480.05 483.13 L480.57 481.68 L481.13 480.22 L481.72 478.73 L482.37 477.21 L483.07 475.63 L483.82 473.99 L484.62 472.31 L485.46 470.60 L486.32 468.88 L487.19 467.18 L488.07 465.50 L488.95 463.86 L489.81 462.29 L490.64 460.81 L491.45 459.40 L492.23 458.04 L493.00 456.74 L493.77 455.48 L494.54 454.25 L495.33 453.05 L496.13 451.87 L496.97 450.71 L497.85 449.55 L498.78 448.38 L499.75 447.23 L500.75 446.10 L501.78 444.99 L502.84 443.90 L503.93 442.82 L505.04 441.75 L506.18 440.68 L507.35 439.61 L508.55 438.53 L509.77 437.45 L511.03 436.35 L512.34 435.24 L513.68 434.12 L515.05 433.00 L516.45 431.89 L517.86 430.78 L519.27 429.68 L520.69 428.60 L522.09 427.55 L523.47 426.51 L524.84 425.50 L526.21 424.51 L527.58 423.54 L528.96 422.58 L530.33 421.64 L531.70 420.70 L533.07 419.78 L534.44 418.87 L535.81 417.97 L537.17 417.07 L538.53 416.18 L539.89 415.30 L541.25 414.42 L542.60 413.56 L543.95 412.71 L545.31 411.86 L546.66 411.03 L548.02 410.22 L549.37 409.41 L550.74 408.62 L552.10 407.85 L553.47 407.10 L554.84 406.37 L556.21 405.65 L557.58 404.94 L558.95 404.24 L560.32 403.54 L561.69 402.84 L563.07 402.13 L564.44 401.41 L565.79 400.70 L567.11 399.99 L568.42 399.28 L569.72 398.58 L571.03 397.87 L572.36 397.16 L573.73 396.44 L575.14 395.71 L576.60 394.97 L578.14 394.21 L579.75 393.43 L581.43 392.63 L583.17 391.82 L584.95 391.00 L586.77 390.17 L588.60 389.34 L590.45 388.50 L592.29 387.66 L594.11 386.83 L595.91 386.01" fill="none" stroke="#800a86" stroke-width="1.60" stroke-dasharray="3.8 3.9"/>
<path d="M472.74 529.14 L474.24 525.60 L475.72 522.08 L477.21 518.57 L478.69 515.06 L480.17 511.55 L481.66 508.02 L483.17 504.47 L484.69 500.89 L486.23 497.27 L487.79 493.61 L489.39 489.89 L491.01 486.11 L492.65 482.29 L494.31 478.44 L495.98 474.57 L497.66 470.69 L499.34 466.81 L501.02 462.96 L502.69 459.13 L504.34 455.34 L506.00 451.56 L507.67 447.77 L509.35 443.97 L511.03 440.18 L512.70 436.41 L514.36 432.67 L516.01 428.98 L517.62 425.35 L519.21 421.79 L520.76 418.31 L522.26 414.94 L523.73 411.65 L525.16 408.44 L526.57 405.30 L527.95 402.19 L529.33 399.11 L530.70 396.05 L532.08 392.98 L533.46 389.88 L534.86 386.75" fill="none" stroke="#fa0c0c" stroke-width="1.60" stroke-dasharray="3.8 3.9"/>
<circle cx="472.46" cy="513.39" r="1.55" fill="#0a0aff"/>
<circle cx="486.03" cy="491.27" r="1.55" fill="#0a0aff"/>
<circle cx="499.59" cy="469.16" r="1.55" fill="#0a0aff"/>
<circle cx="513.16" cy="461.45" r="1.55" fill="#0a0aff"/>
<circle cx="526.73" cy="463.19" r="1.55" fill="#0a0aff"/>
<circle cx="540.29" cy="448.78" r="1.55" fill="#0a0aff"/>
<circle cx="553.86" cy="452.76" r="1.55" fill="#0a0aff"/>
<circle cx="567.42" cy="430.14" r="1.55" fill="#0a0aff"/>
<circle cx="580.99" cy="433.62" r="1.55" fill="#0a0aff"/>
<circle cx="594.55" cy="448.04" r="1.55" fill="#0a0aff"/>
<circle cx="608.12" cy="434.37" r="1.55" fill="#0a0aff"/>
<circle cx="621.68" cy="435.36" r="1.55" fill="#0a0aff"/>
<circle cx="635.25" cy="440.08" r="1.55" fill="#0a0aff"/>
<circle cx="648.81" cy="450.02" r="1.55" fill="#0a0aff"/>
<circle cx="662.38" cy="450.77" r="1.55" fill="#0a0aff"/>
<circle cx="675.94" cy="434.62" r="1.55" fill="#0a0aff"/>
<circle cx="689.50" cy="443.31" r="1.55" fill="#0a0aff"/>
<circle cx="703.07" cy="437.60" r="1.55" fill="#0a0aff"/>
<circle cx="716.63" cy="441.08" r="1.55" fill="#0a0aff"/>
<circle cx="730.20" cy="441.82" r="1.55" fill="#0a0aff"/>
<circle cx="604.9" cy="475.1" r="4.2" fill="#0a0aff"/>
<text x="627.6" y="478.3" class="lg">Simulation</text>
<path d="M589 497.60H620" stroke="#fa0c0c" stroke-width="1.5" stroke-dasharray="3.7 2.9" fill="none"/>
<text x="627.50" y="500.80" class="lg">Harmonic</text>
<text x="701.40" y="500.80" class="lg">Approximation</text>
<path d="M589 521.60H620" stroke="#ff8484" stroke-width="1.5" stroke-dasharray="3.7 2.9" fill="none"/>
<text x="627.50" y="524.70" class="lg">Anharmonic</text>
<text x="720.00" y="524.70" class="lg">Integral</text>
<text x="778.00" y="524.70" class="lg">(AI)</text>
<path d="M589 545.40H620" stroke="#800a86" stroke-width="1.5" stroke-dasharray="3.7 2.9" fill="none"/>
<text x="627.50" y="548.20" class="lg">AI</text>
<text x="646.80" y="548.20" class="lg">with</text>
<text x="680.90" y="548.20" class="lg">dissipative</text>
<text x="763.50" y="548.20" class="lg">correction</text>
<path d="M374.0 0V351.6" stroke="#000" stroke-width="1.4"/>
<path d="M0 351.6H834" stroke="#000" stroke-width="1.4"/>
<text transform="translate(0.1,34.8) scale(0.95,1)" class="pl" style="font-size:40.8px">A</text>
<text transform="translate(389.3,32.8) scale(0.97,1)" class="pl" style="font-size:40.3px">B</text>
<text transform="translate(2.7,383.6) scale(0.955,1)" class="pl" style="font-size:42px">C</text>
</svg>
</body></html>
